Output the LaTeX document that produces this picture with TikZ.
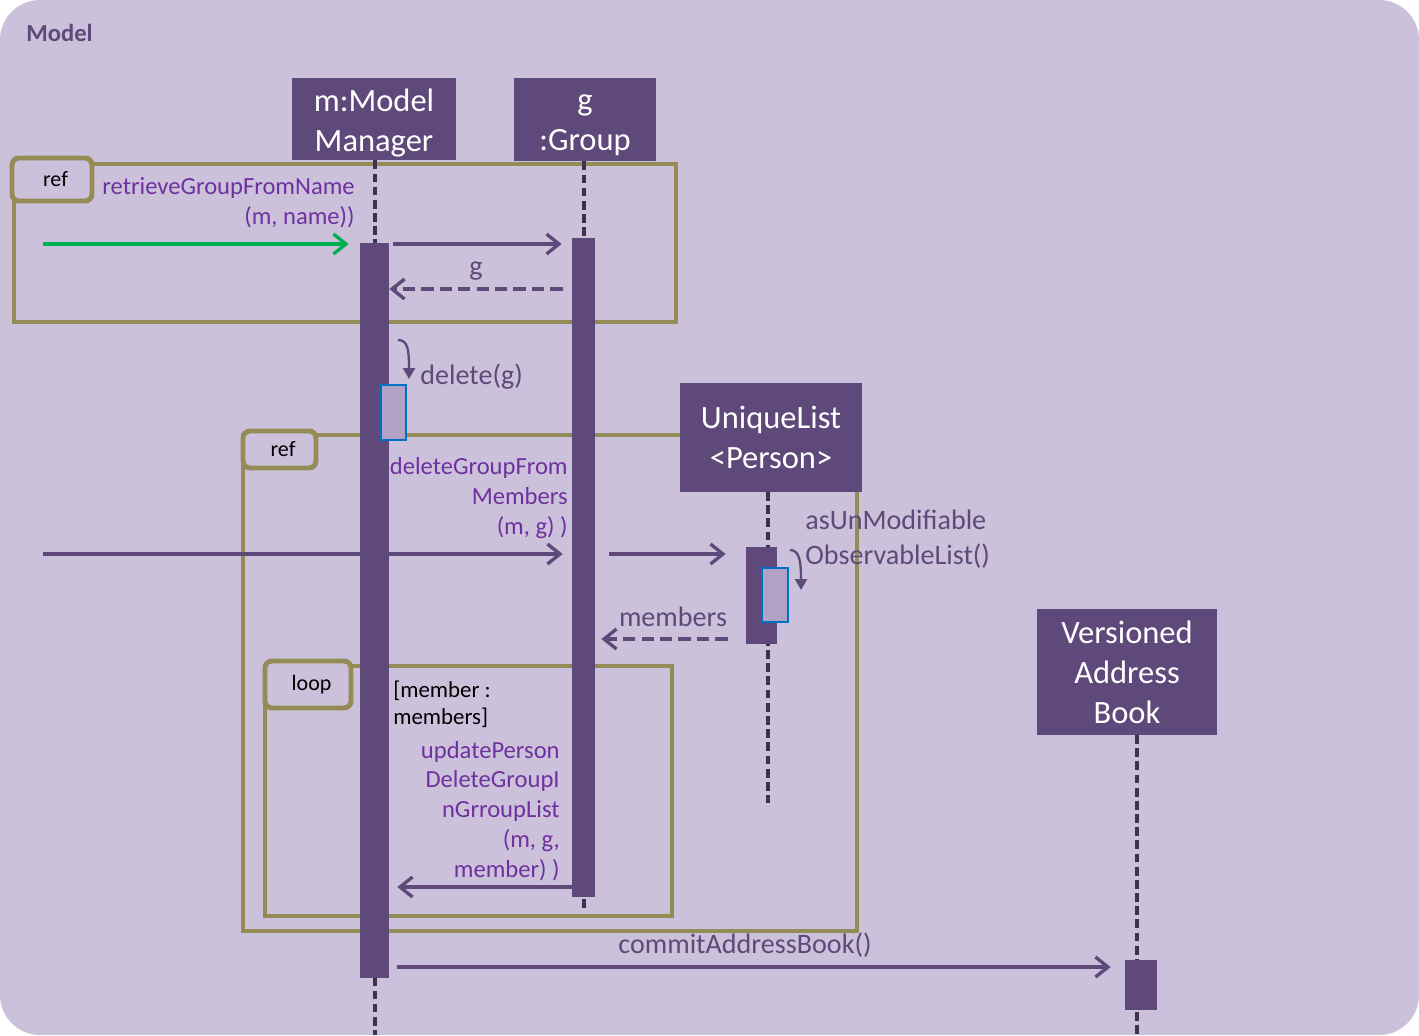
\documentclass[tikz,border=0pt]{standalone}
\usepackage{fontspec}
\setmainfont{Carlito}
\usetikzlibrary{arrows.meta}

\definecolor{bglav}{HTML}{CBC1DA}
\definecolor{headpur}{HTML}{5F497A}
\definecolor{lifedark}{HTML}{3F3151}
\definecolor{frameolive}{HTML}{958B56}
\definecolor{labpur}{HTML}{7030A0}
\definecolor{lightact}{HTML}{B2A1C7}
\definecolor{actborder}{HTML}{0070C0}
\definecolor{greenarr}{HTML}{00B050}

\newcommand{\headstrut}[1]{\rule{0pt}{#1}}

\tikzset{
  head/.style={fill=headpur, text=white, align=center, inner sep=0pt,
    font=\fontsize{18.5}{22.7}\selectfont},
  bar/.style={fill=headpur, inner sep=0pt},
  selfbar/.style={fill=lightact, draw=actborder, line width=1pt, inner sep=0pt},
  life/.style={draw=lifedark, line width=1.9pt, dash pattern=on 5pt off 2.5pt},
  frame/.style={draw=frameolive, line width=1.9pt},
  tag/.style={draw=frameolive, fill=bglav, line width=2.8pt, rounded corners=4pt,
    inner sep=0pt, font=\fontsize{12.5}{15}\selectfont},
  msg/.style={draw=headpur, line width=1.9pt, -{Straight Barb[length=2.5mm,width=4mm]}},
  ret/.style={msg, dash pattern=on 7pt off 3.5pt},
  selfcall/.style={draw=headpur, line width=1.3pt, -{Triangle[length=2.2mm,width=2.4mm]}},
  lbl/.style={inner sep=0pt, align=right, text=labpur, font=\fontsize{14}{17}\selectfont},
  dlbl/.style={inner sep=0pt, text=headpur, font=\fontsize{16}{19.8}\selectfont},
  guard/.style={inner sep=0pt, align=left, font=\fontsize{13}{15.3}\selectfont}
}

\begin{document}
\begin{tikzpicture}[x=0.02cm, y=-0.02cm]
% background
	\useasboundingbox (0,0) rectangle (1419,1035);
	\fill[white] (0,0) rectangle (1419,1035);
	\fill[bglav, rounded corners=0.8cm] (0,0) rectangle (1419,1035);
	\node[anchor=west, inner sep=0pt, text=headpur, font=\bfseries\fontsize{14}{17}\selectfont] (title) at (26,33) {Model};

	% frames
	\draw[frame] (14,164) rectangle (676,322);
	\draw[frame] (243,435) rectangle (857,931);
	\draw[frame] (265,666) rectangle (672,916);
	\node[tag, minimum width=1.6cm, minimum height=0.86cm] (tagRef1) at (52,179.5) {\hspace{4pt}ref};
	\node[tag, minimum width=1.46cm, minimum height=0.74cm] (tagRef2) at (279.5,449.5) {\hspace{4pt}ref};
	\node[tag, minimum width=1.72cm, minimum height=0.94cm] (tagLoop) at (308,684.5) {\hspace{4pt}loop};

	% heads
	\node[head, minimum width=3.28cm, minimum height=1.64cm] (headM) at (374,119) {\headstrut{17.5pt}m:Model\\Manager};
	\node[head, minimum width=2.84cm, minimum height=1.66cm] (headG) at (585,119.5) {\headstrut{15.5pt}g\\:Group};

	% lifelines
	\coordinate (endM) at (375,1035);
	\coordinate (endG) at (584,912);
	\coordinate (endU) at (768,803);
	\coordinate (endV) at (1137,1035);
	\draw[life] (headM.south -| endM) -- (endM);
	\draw[life] (headG.south -| endG) -- (endG);
	\draw[life] (768,492) -- (endU);
	\draw[life] (1137,735) -- (endV);

	% activations (positions only, drawn later)
	\path (374.5,610.5) node[bar, minimum width=0.58cm, minimum height=14.7cm] (actM) {};
	\path (583.5,567.5) node[bar, minimum width=0.46cm, minimum height=13.18cm] (actG) {};
	\path (761.5,595.5) node[bar, minimum width=0.62cm, minimum height=1.94cm] (actU) {};
	\path (1141,985) node[bar, minimum width=0.64cm, minimum height=1cm] (actV) {};

	% messages
	\coordinate (r1) at (0,244);
	\coordinate (r2) at (0,289);
	\coordinate (r3) at (0,554);
	\coordinate (r4) at (0,639);
	\coordinate (r5) at (0,887);
	\coordinate (r6) at (0,967);
	\coordinate (in1) at (43,244);
	\coordinate (in3) at (43,554);
	\draw[msg, draw=greenarr, shorten >=0.22cm] (in1) -- (actM.west |- r1);
	\draw[msg, shorten <=0.08cm, shorten >=0.2cm] (actM.east |- r1) -- (actG.west |- r1);
	\draw[ret, shorten <=0.18cm] (actG.west |- r2) -- (actM.east |- r2);
	\draw[msg, shorten >=0.18cm] (in3) -- (actG.west |- r3);
	\draw[msg, shorten <=0.28cm, shorten >=0.4cm] (actG.east |- r3) -- (actU.west |- r3);
	\draw[ret, shorten <=0.36cm, shorten >=0.12cm] (actU.west |- r4) -- (actG.east |- r4);
	\draw[msg, shorten >=0.16cm] (actG.west |- r5) -- (actM.east |- r5);
	\draw[msg, shorten <=0.16cm, shorten >=0.28cm] (actM.east |- r6) -- (actV.west |- r6);

	% activation bars
	\node[bar, minimum width=0.58cm, minimum height=14.7cm] at (actM) {};
	\node[bar, minimum width=0.46cm, minimum height=13.18cm] at (actG) {};
	\node[head, minimum width=3.64cm, minimum height=2.18cm] (headU) at (771,437.5) {UniqueList\\<Person>};
	\node[head, minimum width=3.6cm, minimum height=2.52cm] (headV) at (1127,672) {Versioned\\Address\\Book};
	\node[bar, minimum width=0.62cm, minimum height=1.94cm] at (actU) {};
	\node[bar, minimum width=0.64cm, minimum height=1cm] at (actV) {};
	\node[selfbar, minimum width=0.5cm, minimum height=1.1cm] (selfM) at (393.5,412.5) {};
	\node[selfbar, minimum width=0.52cm, minimum height=1.08cm] (selfU) at (775,595) {};

	% self calls
	\coordinate (sM) at (398,340);
	\coordinate (sU) at (790,550);
	\draw[selfcall] (sM) .. controls (408,340) and (409,350) .. (409,379);
	\draw[selfcall] (sU) .. controls (799,550) and (801,560) .. (801,590);

	% labels
	\node[lbl, anchor=east] (lblRetrieve) at (355,203) {retrieveGroupFromName\\(m, name))};
	\node[lbl, anchor=east] (lblDelGrp) at (568,498) {deleteGroupFrom\\Members\\(m, g) )};
	\node[lbl, anchor=east] (lblUpdate) at (560,811) {updatePerson\\DeleteGroupI\\nGrroupList\\(m, g,\\member) )};
	\node[guard, anchor=west] (lblGuard) at (393,704) {[member :\\members]};
	\node[dlbl, anchor=west] (lblDelete) at (420,377) {delete(g)};
	\node[dlbl, anchor=west, align=left] (lblAsUn) at (805,539) {asUnModifiable\\ObservableList()};
	\node[dlbl] (lblMembers) at (673,617) {members};
	\node[dlbl] (lblG) at (476,271) {g};
	\node[dlbl] (lblCommit) at (745,945) {commitAddressBook()};
\end{tikzpicture}
\end{document}
